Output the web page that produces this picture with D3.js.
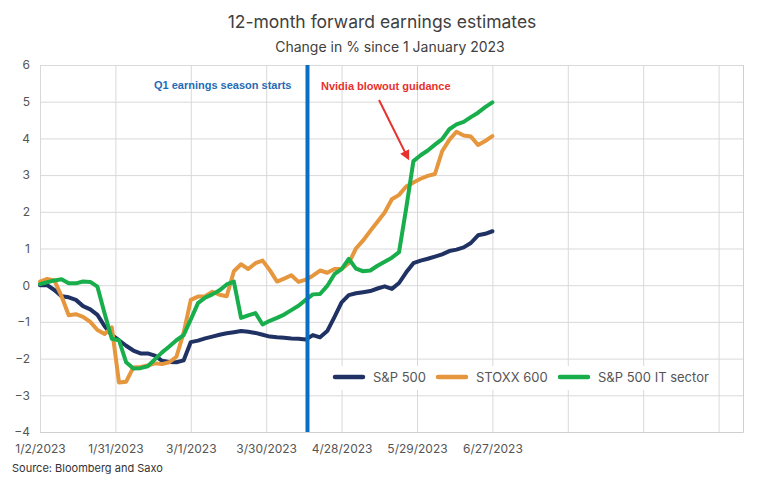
<!DOCTYPE html>
<html>
<head>
<meta charset="utf-8">
<script src="https://cdn.jsdelivr.net/npm/d3@7"></script>
<style>
  html, body { margin: 0; padding: 0; background: #fff; }
  svg { display: block; font-family: Inter, "Noto Sans", sans-serif; }
</style>
</head>
<body>
<svg id="chart" width="764" height="486"></svg>
<script>
// ---- data (trading-day index since 1/2/2023, sampled every 2 days) ----
const dayIndex = [0,2,4,6,8,10,12,14,16,18,20,22,24,26,28,30,32,34,36,38,40,42,44,46,48,50,52,54,56,58,60,62,64,66,68,70,72,74,76,78,80,82,84,86,88,90,92,94,96,98,100,102,104,106,108,110,112,114,116,118,120,122,124,126];

const sp500 = [0,0,-0.13,-0.3,-0.33,-0.4,-0.57,-0.66,-0.81,-1.12,-1.36,-1.5,-1.65,-1.78,-1.86,-1.86,-1.92,-2.06,-2.09,-2.1,-2.05,-1.55,-1.51,-1.45,-1.4,-1.35,-1.31,-1.28,-1.25,-1.27,-1.3,-1.35,-1.4,-1.42,-1.43,-1.45,-1.46,-1.48,-1.36,-1.42,-1.25,-0.87,-0.47,-0.27,-0.22,-0.19,-0.16,-0.09,-0.03,-0.1,0.06,0.35,0.6,0.67,0.72,0.78,0.84,0.93,0.97,1.03,1.15,1.36,1.4,1.47];

const stoxx600 = [0.1,0.17,0.13,-0.3,-0.82,-0.79,-0.86,-1.0,-1.22,-1.33,-1.15,-2.65,-2.63,-2.24,-2.23,-2.19,-2.13,-2.15,-2.1,-1.95,-1.3,-0.4,-0.31,-0.3,-0.18,-0.26,-0.3,0.38,0.57,0.44,0.6,0.67,0.41,0.1,0.18,0.27,0.09,0.15,0.26,0.4,0.34,0.44,0.44,0.6,1.0,1.22,1.48,1.73,1.98,2.34,2.46,2.69,2.8,2.9,2.98,3.03,3.65,3.96,4.18,4.08,4.05,3.82,3.93,4.06];

const sp500IT = [0.03,0.08,0.13,0.16,0.05,0.05,0.1,0.09,-0.04,-0.77,-1.46,-1.5,-2.1,-2.27,-2.26,-2.21,-2.02,-1.83,-1.67,-1.5,-1.36,-0.93,-0.49,-0.34,-0.25,-0.14,0.02,0.1,-0.89,-0.82,-0.76,-1.07,-0.97,-0.89,-0.8,-0.68,-0.56,-0.4,-0.25,-0.24,-0.02,0.3,0.44,0.72,0.45,0.38,0.4,0.53,0.64,0.75,0.9,2.1,3.38,3.54,3.67,3.83,3.98,4.25,4.38,4.45,4.58,4.7,4.85,4.98];

const seriesNames = ["S&P 500", "STOXX 600", "S&P 500 IT sector"];
const seriesColors = ["#1f3263", "#e6963c", "#18ae4c"];

const xTickIndex = [0,21,42,63,84,105,126,147,168,189];
const xTickLabels = ["1/2/2023","1/31/2023","3/1/2023","3/30/2023","4/28/2023","5/29/2023","6/27/2023","","",""];
const yTicks = [-4,-3,-2,-1,0,1,2,3,4,5,6];

const q1StartIndex = 74.5;
const nvidiaIndex = 102;

// ---- layout ----
const svg = d3.select("#chart");
const W = 764, H = 486;
const m = {left: 40, right: 21, top: 65, bottom: 54};
const x = d3.scaleLinear().domain([0, 195.8]).range([m.left, W - m.right]);
const y = d3.scaleLinear().domain([-4, 6]).range([H - m.bottom, m.top]);

// title
svg.append("text").attr("x", 382).attr("y", 28).attr("text-anchor", "middle")
  .attr("font-size", 17.5).attr("fill", "#404040").text("12-month forward earnings estimates");
svg.append("text").attr("x", 390).attr("y", 52).attr("text-anchor", "middle")
  .attr("font-size", 14).attr("fill", "#404040").text("Change in % since 1 January 2023");

// horizontal grid + y labels
const yAxis = svg.append("g").attr("transform", `translate(${m.left},0)`)
  .call(d3.axisLeft(y).tickValues(yTicks).tickSize(-(W - m.right - m.left)).tickPadding(10).tickFormat(d3.format("d")));
yAxis.select(".domain").remove();
yAxis.selectAll(".tick line").attr("stroke", "#d9d9d9");
yAxis.selectAll(".tick text").attr("font-size", 12).attr("fill", "#555").attr("font-family", "Inter, sans-serif");

// vertical grid + x labels
const xAxis = svg.append("g").attr("transform", `translate(0,${H - m.bottom})`)
  .call(d3.axisBottom(x).tickValues(xTickIndex).tickSize(-(H - m.bottom - m.top)).tickPadding(12)
    .tickFormat((d, i) => xTickLabels[i]));
xAxis.select(".domain").attr("stroke", "#d0d0d0");
xAxis.selectAll(".tick line").attr("stroke", "#d9d9d9");
xAxis.selectAll(".tick text").attr("font-size", 12).attr("fill", "#555").attr("font-family", "Inter, sans-serif");

// lines
const line = d3.line().x((d, i) => x(dayIndex[i])).y(d => y(d)).curve(d3.curveLinear);
[sp500, stoxx600, sp500IT].forEach((s, i) => {
  svg.append("path").datum(s).attr("d", line).attr("fill", "none")
    .attr("stroke", seriesColors[i]).attr("stroke-width", 4)
    .attr("stroke-linejoin", "round").attr("stroke-linecap", "round");
});

// Q1 vertical line
svg.append("line").attr("x1", x(q1StartIndex)).attr("x2", x(q1StartIndex))
  .attr("y1", y(6)).attr("y2", y(-4)).attr("stroke", "#0a6fc2").attr("stroke-width", 4);
svg.append("text").attr("x", x(q1StartIndex) - 16).attr("y", 89).attr("text-anchor", "end")
  .attr("font-family", "'Liberation Sans', Arial, sans-serif").attr("font-weight", "bold")
  .attr("font-size", 11).attr("fill", "#1f6bb5").text("Q1 earnings season starts");

// Nvidia annotation
svg.append("defs").append("marker").attr("id", "arrow").attr("viewBox", "0 0 10 10")
  .attr("refX", 8).attr("refY", 5).attr("markerWidth", 5).attr("markerHeight", 5)
  .attr("orient", "auto").append("path").attr("d", "M0,0 L10,5 L0,10 Z").attr("fill", "#e8312c");
svg.append("text").attr("x", 321).attr("y", 90)
  .attr("font-family", "'Liberation Sans', Arial, sans-serif").attr("font-weight", "bold")
  .attr("font-size", 11).attr("fill", "#e8312c").text("Nvidia blowout guidance");
svg.append("line").attr("x1", 379).attr("y1", 100).attr("x2", x(nvidiaIndex) + 2).attr("y2", y(3.45))
  .attr("stroke", "#e8312c").attr("stroke-width", 2).attr("marker-end", "url(#arrow)");

// legend
svg.append("rect").attr("x", 325).attr("y", 366).attr("width", 385).attr("height", 24).attr("fill", "#fff");
const legendX = [335, 438, 560];
seriesNames.forEach((n, i) => {
  svg.append("line").attr("x1", legendX[i]).attr("x2", legendX[i] + 28).attr("y1", 377).attr("y2", 377)
    .attr("stroke", seriesColors[i]).attr("stroke-width", 4.5).attr("stroke-linecap", "round");
  svg.append("text").attr("x", legendX[i] + 38).attr("y", 382).attr("font-size", 13)
    .attr("fill", "#555").text(n);
});

// source
svg.append("text").attr("x", 12).attr("y", 472).attr("font-size", 11).attr("fill", "#333")
  .text("Source: Bloomberg and Saxo");
</script>
</body>
</html>
